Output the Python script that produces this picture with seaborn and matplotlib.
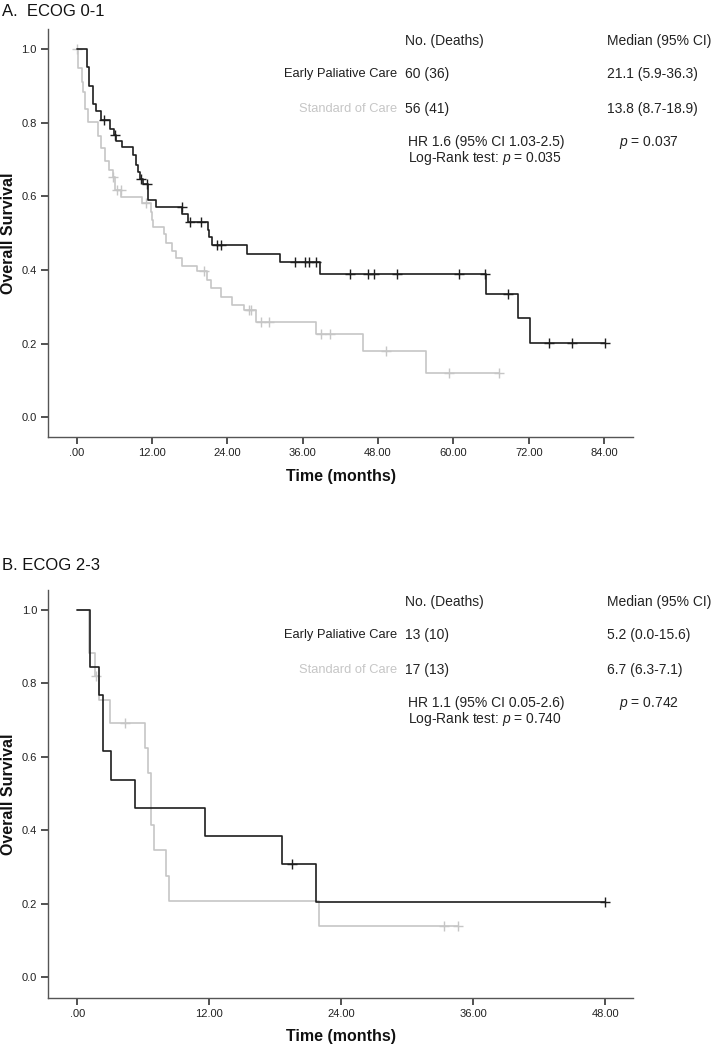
import pandas as pd
import matplotlib
matplotlib.use("Agg")
import matplotlib.pyplot as plt
import seaborn as sns

# ---- data ----
# Panel A: ECOG 0-1
a_epc_times = [1.59, 1.96, 2.60, 3.07, 3.87, 5.30, 5.94, 6.26, 7.21, 8.96, 9.44, 9.76, 10.08,
               10.56, 11.40, 12.63, 16.85, 17.77, 20.86, 21.07, 21.50, 27.07, 32.37, 38.74,
               65.18, 70.22, 72.23]
a_epc_surv = [0.952, 0.900, 0.851, 0.832, 0.808, 0.784, 0.767, 0.751, 0.735, 0.713, 0.686, 0.667,
              0.648, 0.634, 0.590, 0.570, 0.552, 0.531, 0.509, 0.490, 0.467, 0.444, 0.421, 0.389,
              0.334, 0.269, 0.201]
a_epc_cens_t = [4.35, 6.10, 10.19, 11.19, 16.77, 18.04, 19.79, 22.29, 22.93, 34.76, 36.40, 36.94,
                38.10, 43.57, 46.43, 47.39, 50.96, 60.88, 65.02, 68.73, 75.21, 78.92, 84.1]
a_epc_end = 84.1

a_soc_times = [0.16, 0.84, 1.05, 1.32, 1.85, 3.34, 3.87, 4.51, 5.14, 5.78, 6.10, 7.13, 10.45,
               11.78, 11.99, 12.20, 13.90, 14.17, 15.13, 15.81, 16.72, 19.11, 20.70, 21.39,
               22.93, 24.78, 26.69, 28.50, 38.10, 45.54, 55.62]
a_soc_surv = [0.949, 0.911, 0.884, 0.838, 0.802, 0.763, 0.731, 0.695, 0.672, 0.654, 0.618, 0.599,
              0.582, 0.559, 0.536, 0.518, 0.497, 0.473, 0.453, 0.434, 0.412, 0.398, 0.372, 0.351,
              0.328, 0.305, 0.292, 0.258, 0.226, 0.181, 0.121]
a_soc_cens_t = [0.05, 5.83, 6.37, 7.01, 11.04, 20.32, 27.44, 27.71, 29.35, 30.62, 38.90, 40.33,
                49.25, 59.28, 67.20]
a_soc_end = 67.2

# Panel B: ECOG 2-3
b_epc_times = [1.11, 1.95, 2.35, 3.05, 5.25, 11.6, 18.6, 21.65]
b_epc_surv = [0.846, 0.769, 0.615, 0.538, 0.462, 0.385, 0.308, 0.205]
b_epc_cens_t = [19.5, 48.0]
b_epc_end = 48.0

b_soc_times = [1.07, 1.59, 1.95, 2.95, 6.14, 6.45, 6.72, 6.95, 8.02, 8.32, 22.0]
b_soc_surv = [0.882, 0.819, 0.756, 0.693, 0.624, 0.555, 0.416, 0.347, 0.277, 0.208, 0.139]
b_soc_cens_t = [1.65, 4.32, 33.3, 34.6]
b_soc_end = 34.6

a_xticks = [0, 12, 24, 36, 48, 60, 72, 84]
a_xticklabels = [".00", "12.00", "24.00", "36.00", "48.00", "60.00", "72.00", "84.00"]
b_xticks = [0, 12, 24, 36, 48]
b_xticklabels = [".00", "12.00", "24.00", "36.00", "48.00"]
yticks = [0.0, 0.2, 0.4, 0.6, 0.8, 1.0]
yticklabels = ["0.0", "0.2", "0.4", "0.6", "0.8", "1.0"]

groups = ["Early Paliative Care", "Standard of Care"]
a_counts = ["60 (36)", "56 (41)"]
a_medians = ["21.1 (5.9-36.3)", "13.8 (8.7-18.9)"]
a_hr = "HR 1.6 (95% CI 1.03-2.5)"
a_logrank = "0.035"
a_p = "0.037"
b_counts = ["13 (10)", "17 (13)"]
b_medians = ["5.2 (0.0-15.6)", "6.7 (6.3-7.1)"]
b_hr = "HR 1.1 (95% CI 0.05-2.6)"
b_logrank = "0.740"
b_p = "0.742"

DARK = "#1e1e1e"
LIGHT = "#c6c6c6"
W, H = 712, 1046

sns.set_style("white")
plt.rcParams["font.family"] = ["Liberation Sans", "DejaVu Sans"]
plt.rcParams["mathtext.fontset"] = "custom"
plt.rcParams["mathtext.it"] = "Liberation Sans:italic"
plt.rcParams["mathtext.rm"] = "Liberation Sans"


def km_frame(times, surv, end):
    # step curve starting at 1.0
    t = [0.0] + list(times) + [end]
    s = [1.0] + list(surv) + [surv[-1]]
    return pd.DataFrame({"time": t, "surv": s})


def cens_frame(cens_t, times, surv):
    vals = []
    for c in cens_t:
        v = 1.0
        for t, s in zip(times, surv):
            if t <= c:
                v = s
        vals.append(v)
    return pd.DataFrame({"time": cens_t, "surv": vals})


def fx(x):
    return x / W


def fy(y):
    return 1 - y / H


def draw_panel(ax, curves, xlim, ylim, xticks, xticklabels):
    for times, surv, cens, end, col in curves:
        sns.lineplot(data=km_frame(times, surv, end), x="time", y="surv", ax=ax,
                     drawstyle="steps-post", estimator=None, sort=False,
                     color=col, linewidth=1.2)
        sns.scatterplot(data=cens_frame(cens, times, surv), x="time", y="surv", ax=ax,
                        marker="+", s=60, color=col, linewidth=1.0)
    ax.set_xlim(*xlim)
    ax.set_ylim(*ylim)
    ax.set_xticks(xticks)
    ax.set_xticklabels(xticklabels, fontsize=8)
    ax.set_yticks(yticks)
    ax.set_yticklabels(yticklabels, fontsize=8)
    ax.set_xlabel("")
    ax.set_ylabel("")
    for sp in ["top", "right"]:
        ax.spines[sp].set_visible(False)
    for sp in ["left", "bottom"]:
        ax.spines[sp].set_color("#555555")
        ax.spines[sp].set_linewidth(1.0)
    ax.tick_params(axis="both", direction="out", length=5, width=1.2, color="#333333",
                   labelcolor="#222222", pad=3, left=True, bottom=True)


fig = plt.figure(figsize=(W / 100, H / 100), dpi=100)

ax_a = fig.add_axes([fx(47.7), fy(436.7), fx(633 - 47.7), (436.7 - 29.3) / H])
draw_panel(ax_a,
           [(a_soc_times, a_soc_surv, a_soc_cens_t, a_soc_end, LIGHT),
            (a_epc_times, a_epc_surv, a_epc_cens_t, a_epc_end, DARK)],
           (-4.6, 88.6), (-0.0527, 1.054), a_xticks, a_xticklabels)

ax_b = fig.add_axes([fx(48.3), fy(997.5), fx(633 - 48.3), (997.5 - 590) / H])
draw_panel(ax_b,
           [(b_soc_times, b_soc_surv, b_soc_cens_t, b_soc_end, LIGHT),
            (b_epc_times, b_epc_surv, b_epc_cens_t, b_epc_end, DARK)],
           (-2.65, 50.5), (-0.055, 1.0545), b_xticks, b_xticklabels)


def panel_text(top1, title, title_y, counts, medians, hr, logrank, p, ylab_y, xlab_y):
    fig.text(fx(2), fy(title_y), title, fontsize=12, va="center", ha="left", color="#111111")
    fs = 10
    fig.text(fx(405), fy(top1 - 8), "No. (Deaths)", fontsize=fs, va="center", color="#222222")
    fig.text(fx(607), fy(top1 - 8), "Median (95% CI)", fontsize=fs, va="center", color="#222222")
    rows = [top1 + 25, top1 + 60]
    cols = [DARK, LIGHT]
    for g, c, m, yy, col in zip(groups, counts, medians, rows, cols):
        fig.text(fx(397), fy(yy), g, fontsize=9.3, va="center", ha="right", color=col)
        fig.text(fx(405), fy(yy), c, fontsize=fs, va="center", color="#222222")
        fig.text(fx(607), fy(yy), m, fontsize=fs, va="center", color="#222222")
    fig.text(fx(408), fy(top1 + 93), hr, fontsize=fs, va="center", color="#222222")
    fig.text(fx(408), fy(top1 + 109), "Log-Rank test: $\\it{p}$ = " + logrank, fontsize=fs,
             va="center", color="#222222")
    fig.text(fx(619), fy(top1 + 93), "$\\it{p}$ = " + p, fontsize=fs, va="center", color="#222222")
    fig.text(fx(9), fy(ylab_y), "Overall Survival", fontsize=11.5, fontweight="bold",
             rotation=90, va="center", ha="center", color="#111111")
    fig.text(fx(341), fy(xlab_y), "Time (months)", fontsize=11.5, fontweight="bold",
             va="center", ha="center", color="#111111")


panel_text(49.3, "A.  ECOG 0-1", 12, a_counts, a_medians, a_hr, a_logrank, a_p, 233, 477)
panel_text(610, "B. ECOG 2-3", 565, b_counts, b_medians, b_hr, b_logrank, b_p, 794, 1036)

fig.savefig("out.png", dpi=100, facecolor="white")
